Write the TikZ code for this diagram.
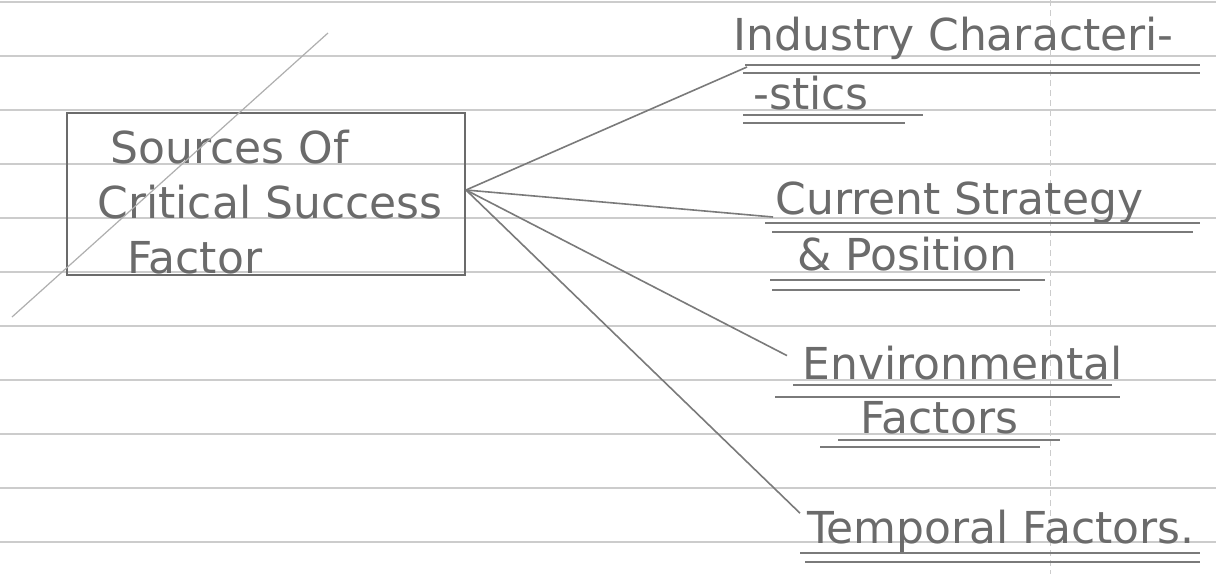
\documentclass[tikz,border=0pt]{standalone}
\usepackage{fontspec}
\setmainfont{DejaVu Sans}
\usetikzlibrary{positioning}
\definecolor{ink}{gray}{0.42}
\definecolor{pencil}{gray}{0.48}
\definecolor{ruling}{gray}{0.8}

\begin{document}
\begin{tikzpicture}[
  x=0.5pt, y=-0.5pt,
  every node/.style={font=\fontsize{22}{27.5}\selectfont, text=ink, inner sep=0pt},
  hand/.style={anchor=base west},
  srcbox/.style={draw=ink, line width=1pt, minimum width=199pt, minimum height=81pt},
  uline/.style={draw=pencil, line width=0.7pt},
  rule/.style={draw=ruling, line width=0.7pt},
  link/.style={draw=pencil, line width=0.8pt}
]
\fill[white] (0,0) rectangle (1216,574);
\useasboundingbox (0,0) rectangle (1216,574);

% ruled page
\foreach \y in {2,56,...,542}
  \draw[rule] (0,\y) -- (1216,\y);
\draw[ruling, dash pattern=on 3pt off 2pt, line width=0.5pt] (1050,0) -- (1050,574);

% source box
\node[srcbox] (src) at (266,194) {};
\node[hand, align=left] (srctxt) at (97,273) {\hspace*{6.5pt}Sources Of\\Critical Success\\\hspace*{15pt}Factor};
\draw[pencil!60, line width=0.6pt] (328,33) -- (12,317);

% the four sources
\node[hand] (ind1) at (733,50) {Industry Characteri-};
\node[hand] (ind2) at (753,109) {-stics};
\node[hand] (cur1) at (775,214) {Current Strategy};
\node[hand] (cur2) at (797,270) {\& Position};
\node[hand] (env1) at (802,379) {Environmental};
\node[hand] (env2) at (860,433) {Factors};
\node[hand] (tmp) at (807,543) {Temporal Factors.};

\draw[link] ([yshift=2pt]src.east) -- ([xshift=7pt,yshift=-8.5pt]ind1.base west);
\draw[link] ([yshift=2pt]src.east) -- ([xshift=-1pt,yshift=-1.5pt]cur1.base west);
\draw[link] ([yshift=2pt]src.east) -- ([xshift=-7.5pt,yshift=3.5pt]env1.west);
\draw[link] ([yshift=2pt]src.east) -- ([xshift=-3.5pt,yshift=-2pt]tmp.north west);

% double underlines
\draw[uline] (745,65) -- (1200,65) (743,73) -- (1200,73);
\draw[uline] (743,115) -- (923,115) (743,123) -- (905,123);
\draw[uline] (765,223) -- (1200,223) (772,232) -- (1193,232);
\draw[uline] (770,280) -- (1045,280) (772,290) -- (1020,290);
\draw[uline] (793,385) -- (1112,385) (775,397) -- (1120,397);
\draw[uline] (838,440) -- (1060,440) (820,447) -- (1040,447);
\draw[uline] (800,553) -- (1200,553) (805,562) -- (1200,562);
\end{tikzpicture}
\end{document}
